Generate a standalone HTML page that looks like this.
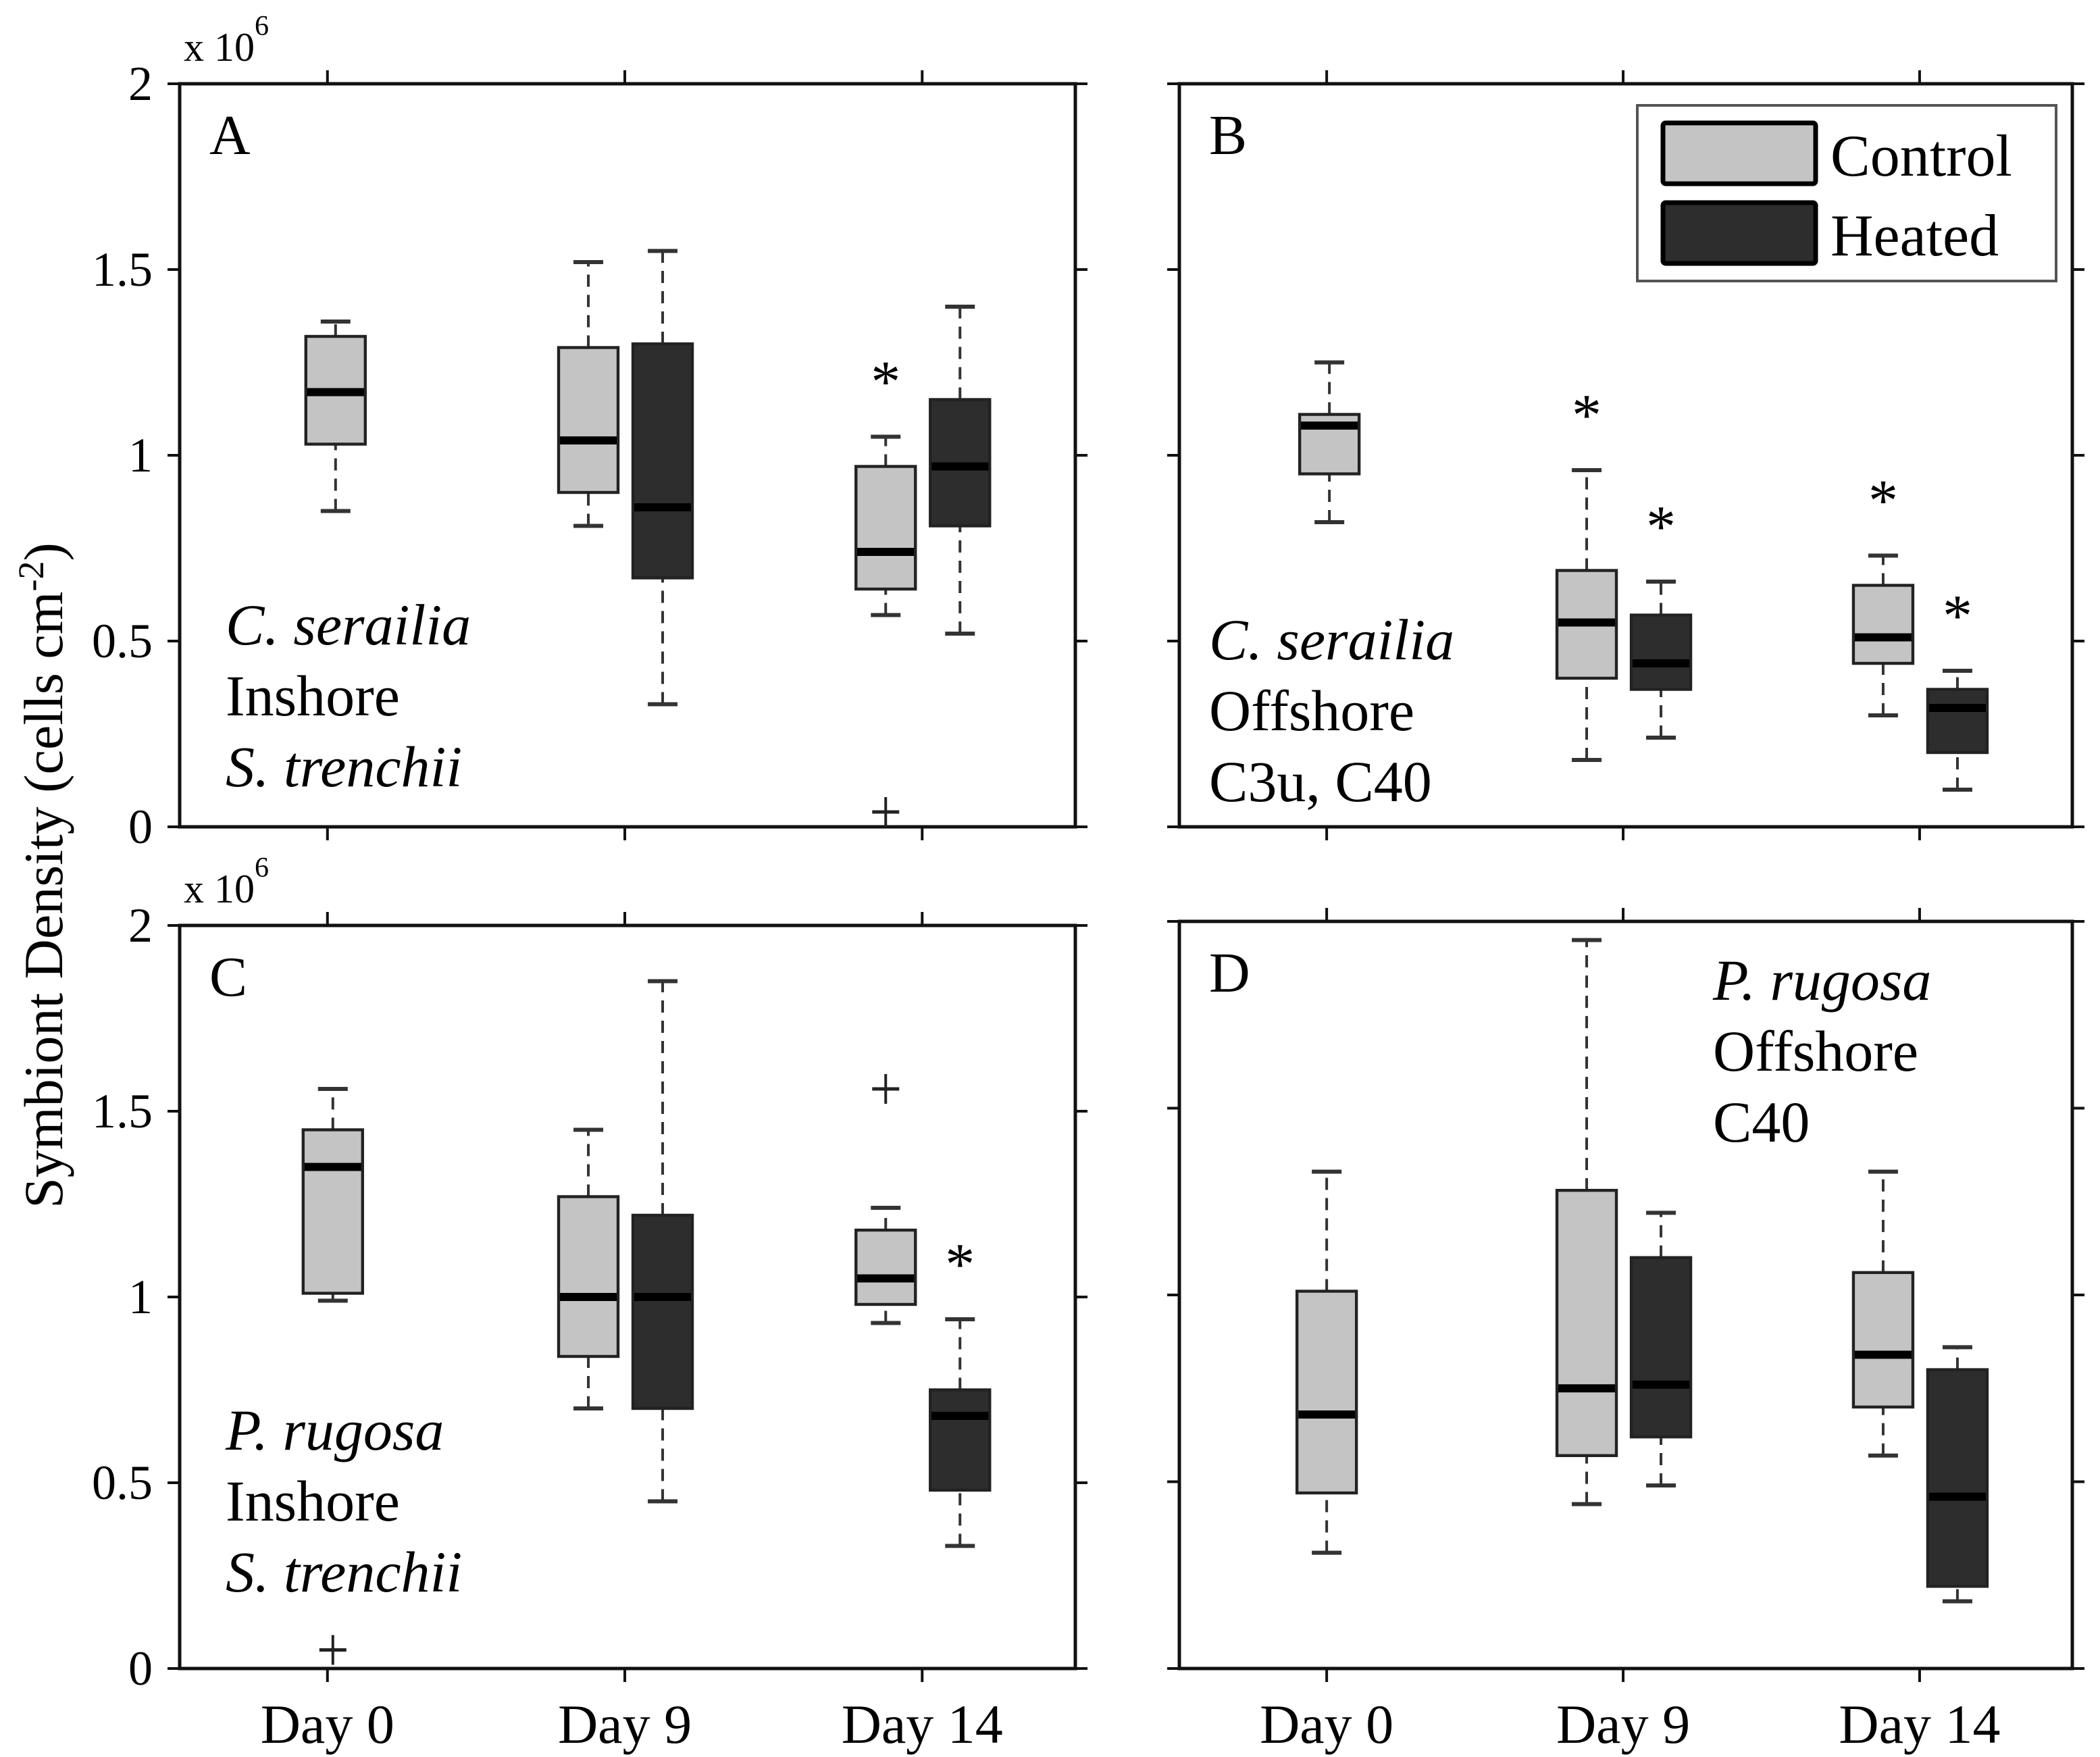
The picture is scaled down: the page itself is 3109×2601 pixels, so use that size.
<!DOCTYPE html>
<html><head><meta charset="utf-8">
<style>
html,body{margin:0;padding:0;background:#fff;}
svg{display:block;}
text{font-family:"Liberation Serif",serif;fill:#000;}
</style></head>
<body>
<svg id="fig" xmlns="http://www.w3.org/2000/svg" width="3109" height="2601" viewBox="0 0 1554.5 1300.5"></svg>
<script>
const days = ["Day 0", "Day 9", "Day 14"];
const yTicks = [0, 0.5, 1, 1.5, 2];
const yTickLabels = ["0", "0.5", "1", "1.5", "2"];
// [whisker-low, q1, median, q3, whisker-high] in x10^6 cells cm^-2 ; null = absent
const panelAControl = [[0.85,1.03,1.17,1.32,1.36],[0.81,0.90,1.04,1.29,1.52],[0.57,0.64,0.74,0.97,1.05]];
const panelAHeated  = [null,[0.33,0.67,0.86,1.30,1.55],[0.52,0.81,0.97,1.15,1.40]];
const panelBControl = [[0.82,0.95,1.08,1.11,1.25],[0.18,0.40,0.55,0.69,0.96],[0.30,0.44,0.51,0.65,0.73]];
const panelBHeated  = [null,[0.24,0.37,0.44,0.57,0.66],[0.10,0.20,0.32,0.37,0.42]];
const panelCControl = [[0.99,1.01,1.35,1.45,1.56],[0.70,0.84,1.00,1.27,1.45],[0.93,0.98,1.05,1.18,1.24]];
const panelCHeated  = [null,[0.45,0.70,1.00,1.22,1.85],[0.33,0.48,0.68,0.75,0.94]];
const panelDControl = [[0.31,0.47,0.68,1.01,1.33],[0.44,0.57,0.75,1.28,1.95],[0.57,0.70,0.84,1.06,1.33]];
const panelDHeated  = [null,[0.49,0.62,0.76,1.10,1.22],[0.18,0.22,0.46,0.80,0.86]];
// outliers: [dayIndex, group(0 control,1 heated), value]
const panelAOutliers = [[2,0,0.04]];
const panelBOutliers = [];
const panelCOutliers = [[0,0,0.05],[2,0,1.56]];
const panelDOutliers = [];
// significance stars: [dayIndex, group]
const panelAStars = [[2,0]];
const panelBStars = [[1,0],[1,1],[2,0],[2,1]];
const panelCStars = [[2,1]];
const panelDStars = [];

const NS = "http://www.w3.org/2000/svg";
const svg = document.getElementById("fig");
function mk(tag, attrs, parent){
  const e = document.createElementNS(NS, tag);
  for (const k in attrs) e.setAttribute(k, attrs[k]);
  (parent||svg).appendChild(e);
  return e;
}
const panels = [
  {id:"a", x0:133, x1:796, y0:62, y1:612, letter:"A", labels:true, showX:false, ctrl:panelAControl, heat:panelAHeated, out:panelAOutliers, stars:panelAStars,
   text:[["C. serailia",true],["Inshore",false],["S. trenchii",true]], tx:167, ty:477, d0:6},
  {id:"b", x0:873, x1:1534, y0:62, y1:612, letter:"B", labels:false, showX:false, ctrl:panelBControl, heat:panelBHeated, out:panelBOutliers, stars:panelBStars,
   text:[["C. serailia",true],["Offshore",false],["C3u, C40",false]], tx:895, ty:488, d0:2},
  {id:"c", x0:133, x1:796, y0:685, y1:1235, letter:"C", labels:true, showX:true, ctrl:panelCControl, heat:panelCHeated, out:panelCOutliers, stars:panelCStars,
   text:[["P. rugosa",true],["Inshore",false],["S. trenchii",true]], tx:167, ty:1073, d0:4},
  {id:"d", x0:873, x1:1534, y0:682, y1:1235, letter:"D", labels:false, showX:true, ctrl:panelDControl, heat:panelDHeated, out:panelDOutliers, stars:panelDStars,
   text:[["P. rugosa",true],["Offshore",false],["C40",false]], tx:1268, ty:740, d0:0}
];
const tickFrac = [0.165, 0.497, 0.829];
const BW = 44, CAP = 22;

panels.forEach(p => {
  const g = mk("g", {});
  
  
  const ys = v => p.y1 - (v/2)*(p.y1 - p.y0);
  const xs = i => p.x0 + tickFrac[i]*(p.x1 - p.x0);
  const fr = mk("rect", {x:p.x0, y:p.y0, width:p.x1-p.x0, height:p.y1-p.y0, fill:"none", stroke:"#111", "stroke-width":2.5}, g);
  
  
  yTicks.forEach((v, i) => {
    const y = ys(v);
    mk("line", {x1:p.x0-9, x2:p.x0, y1:y, y2:y, stroke:"#111", "stroke-width":2}, g);
    mk("line", {x1:p.x1, x2:p.x1+9, y1:y, y2:y, stroke:"#111", "stroke-width":2}, g);
    if (p.labels) {
      const t = mk("text", {x:p.x0-20, y:y+12, "text-anchor":"end", "font-size":36}, g);
      t.textContent = yTickLabels[i];
      
      
    }
  });
  days.forEach((d, i) => {
    const x = xs(i);
    mk("line", {x1:x, x2:x, y1:p.y0-10, y2:p.y0, stroke:"#111", "stroke-width":2}, g);
    mk("line", {x1:x, x2:x, y1:p.y1, y2:p.y1+10, stroke:"#111", "stroke-width":2}, g);
    if (p.showX) {
      const t = mk("text", {x:x, y:1290, "text-anchor":"middle", "font-size":41}, g);
      t.textContent = d;
      
      
    }
  });
  if (p.labels) {
    const t = mk("text", {x:p.x0+3, y:p.y0-17, "font-size":30}, g);
    t.textContent = "x 10";
    
    
    const s = mk("tspan", {dy:-19, "font-size":21}, t);
    s.textContent = "6";
  }
  const L = mk("text", {x:p.x0+22, y:p.y0+52, "font-size":42}, g);
  L.textContent = p.letter;
  
  
  p.text.forEach((tt, k) => {
    const t = mk("text", {x:p.tx, y:p.ty + k*52.5, "font-size":43, "font-style": tt[1] ? "italic" : "normal"}, g);
    t.textContent = tt[0];
    
    
  });
  const centerOf = (i, grp) => i === 0 ? xs(i) + p.d0 : xs(i) + (grp === 0 ? -27 : 28);
  function drawBox(st, i, grp){
    if (!st) return;
    const cx = centerOf(i, grp);
    const bg = mk("g", {}, g);
    
    
    const dash = {stroke:"#333", "stroke-width":2, "stroke-dasharray":"9,6"};
    mk("line", Object.assign({x1:cx, x2:cx, y1:ys(st[3]), y2:ys(st[4])}, dash), bg);
    mk("line", Object.assign({x1:cx, x2:cx, y1:ys(st[0]), y2:ys(st[1])}, dash), bg);
    mk("line", {x1:cx-CAP/2, x2:cx+CAP/2, y1:ys(st[4]), y2:ys(st[4]), stroke:"#333", "stroke-width":3}, bg);
    mk("line", {x1:cx-CAP/2, x2:cx+CAP/2, y1:ys(st[0]), y2:ys(st[0]), stroke:"#333", "stroke-width":3}, bg);
    mk("rect", {x:cx-BW/2, y:ys(st[3]), width:BW, height:ys(st[1])-ys(st[3]), fill: grp===0 ? "#c4c4c4" : "#2d2d2d", stroke:"#222", "stroke-width":2.2}, bg);
    mk("line", {x1:cx-BW/2+1, x2:cx+BW/2-1, y1:ys(st[2]), y2:ys(st[2]), stroke:"#000", "stroke-width":6}, bg);
  }
  p.ctrl.forEach((st, i) => drawBox(st, i, 0));
  p.heat.forEach((st, i) => drawBox(st, i, 1));
  p.out.forEach(o => {
    const cx = centerOf(o[0], o[1]), y = ys(o[2]);
    const og = mk("g", {}, g);
    
    
    mk("line", {x1:cx-10, x2:cx+10, y1:y, y2:y, stroke:"#222", "stroke-width":2.5}, og);
    mk("line", {x1:cx, x2:cx, y1:y-11, y2:y+11, stroke:"#222", "stroke-width":2}, og);
  });
  p.stars.forEach(s => {
    const st = (s[1]===0 ? p.ctrl : p.heat)[s[0]];
    const cx = centerOf(s[0], s[1]);
    const t = mk("text", {x:cx, y:ys(st[4]) - 48 + 22, "text-anchor":"middle", "font-size":44}, g);
    t.textContent = "*";
    
    
  });
});

const lg = mk("g", {});


mk("rect", {x:1212, y:78, width:310, height:130, fill:"#fff", stroke:"#555", "stroke-width":2}, lg);
const legendItems = [["Control", "#c4c4c4", 91], ["Heated", "#2d2d2d", 150]];
legendItems.forEach(it => {
  const e = mk("g", {}, lg);
  
  
  mk("rect", {x:1231, y:it[2], width:113, height:45, rx:2, fill:it[1], stroke:"#000", "stroke-width":3.5}, e);
  const t = mk("text", {x:1355, y:it[2]+39, "font-size":44}, e);
  t.textContent = it[0];
});

const yt = mk("text", {x:0, y:0, "text-anchor":"middle", "font-size":41, transform:"translate(46,648) rotate(-90)"});


yt.textContent = "Symbiont Density (cells cm";
const sup = mk("tspan", {dy:-14, "font-size":27}, yt);
sup.textContent = "-2";
const cl = mk("tspan", {dy:14}, yt);
cl.textContent = ")";
</script>
</body></html>
